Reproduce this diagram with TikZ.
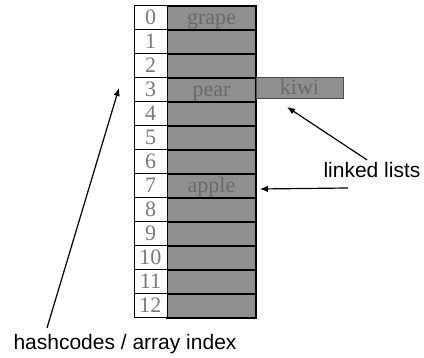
\documentclass[tikz,border=0pt]{standalone}
\usepackage{fontspec}
\setmainfont{Liberation Serif}
\newfontfamily\labelfont{Liberation Sans}
\usepackage{xcolor}
\usepackage{tikz}
\usetikzlibrary{
  arrows.meta,
  positioning,
  calc
}
\definecolor{cellgray}{HTML}{8F8F8F}
\definecolor{wordgray}{HTML}{6A6A6A}
\definecolor{idxgray}{HTML}{7A7A7A}

\begin{document}
\begin{tikzpicture}[x=0.5pt,y=-0.5pt,
    idxbox/.style={draw, fill=white, line width=0.5pt, minimum width=16.5pt,
      minimum height=12pt, inner sep=0pt, text height=9.3pt, text depth=2.7pt,
      text=idxgray, font=\fontsize{11}{11}\selectfont},
    cellbox/.style={draw, fill=cellgray, line width=0.8pt, minimum width=44.5pt,
      minimum height=12pt, inner sep=0pt, text height=9.3pt, text depth=2.7pt,
      text=wordgray, font=\fontsize{11}{11}\selectfont},
    listbox/.style={draw=black!70, fill=cellgray, line width=0.5pt, minimum width=43.5pt,
      minimum height=10.5pt, inner sep=0pt, text height=8.3pt, text depth=2.2pt,
      text=wordgray, font=\fontsize{11}{11}\selectfont},
    note/.style={font=\labelfont\fontsize{10.5}{12}\selectfont, inner sep=0pt},
    arr/.style={-{Latex[length=4pt,width=3.2pt]}, line width=0.6pt}]
  \useasboundingbox (0,0) rectangle (424,358);
  % hash table rows
  \foreach \i/\word in {0/grape,1/,2/,3/pear,4/,5/,6/,7/apple,8/,9/,10/,11/,12/}{
    \node[cellbox] (cell\i) at (211.5, 18+24*\i) {\word};
    \node[idxbox] (idx\i) at (150.5, 18+24*\i) {\i};
  }
  % chained entry
  \node[listbox] (kiwi) at (299.5, 88.5) {kiwi};
  % annotation
  \node[note] (lists) at (372, 170) {linked lists};
  \node[note] (hash) at (125, 344) {hashcodes / array index};
  \coordinate (listtip) at (287, 107);
  \coordinate (hashtail) at (47, 328);
  \coordinate (hashtip) at (119, 88);
  \draw[arr] ([xshift=-2.5pt,yshift=1pt]lists.north) -- (listtip);
  \draw[arr] ([xshift=-12pt,yshift=-9pt]lists.west -| lists.center) -- ([xshift=1.5pt,yshift=-1.5pt]cell7.east);
  \draw[arr] (hashtail) -- (hashtip);
\end{tikzpicture}
\end{document}
